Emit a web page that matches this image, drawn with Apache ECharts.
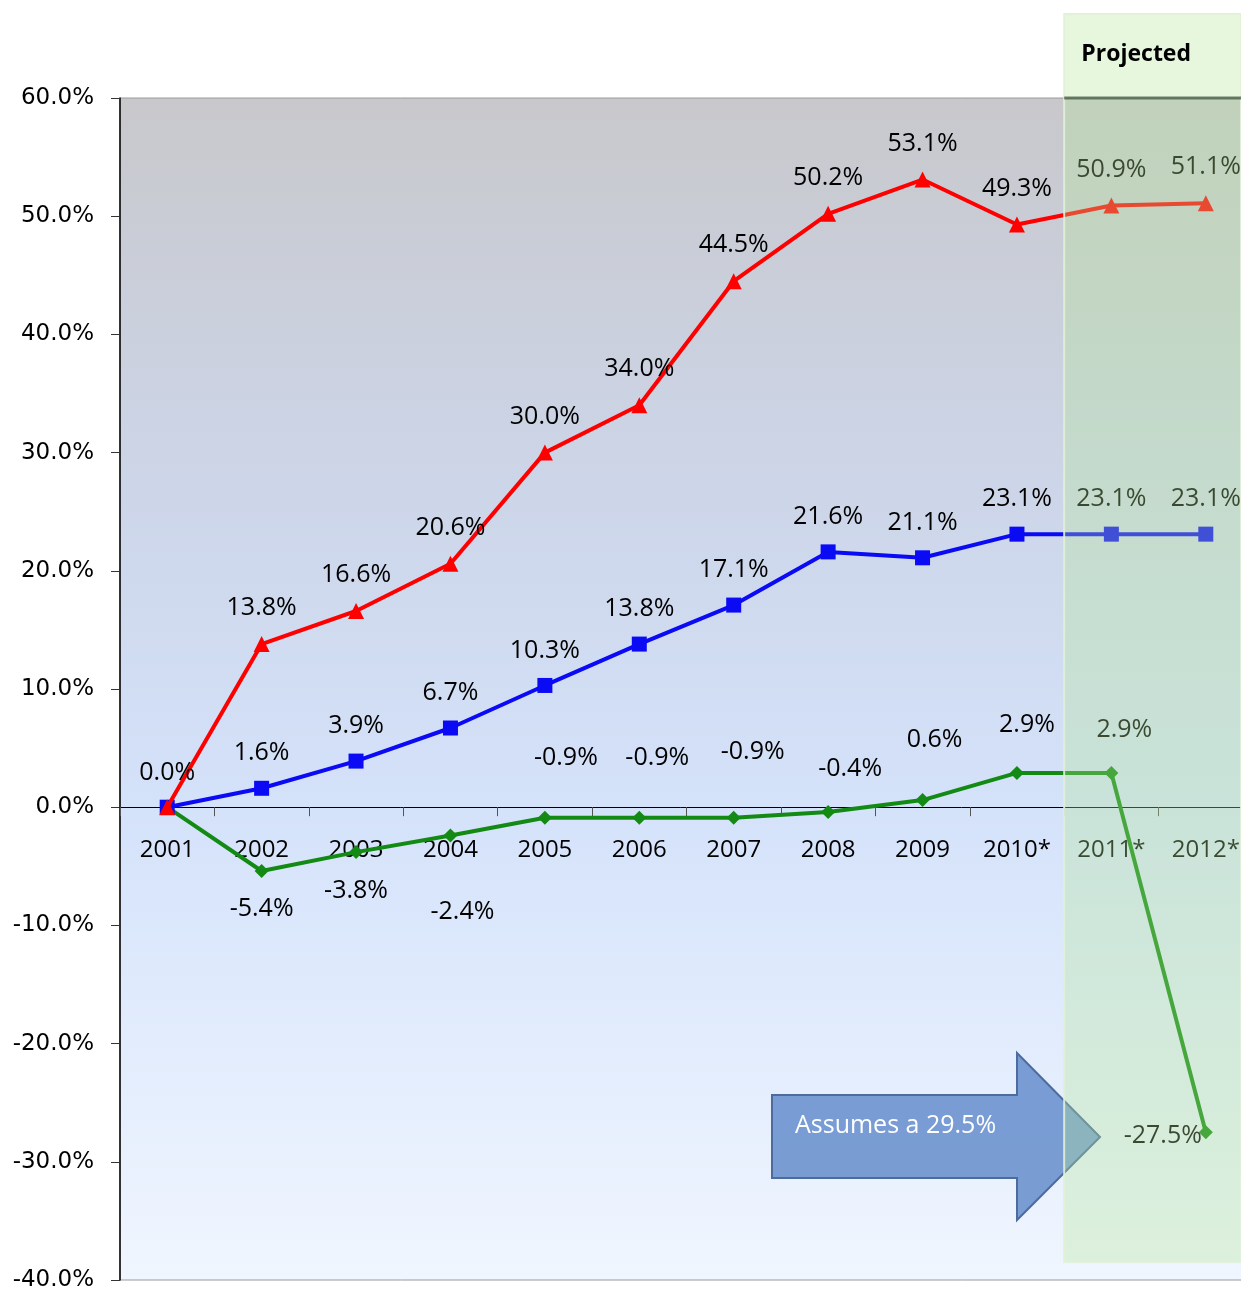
<!DOCTYPE html>
<html>
<head>
<meta charset="utf-8">
<script src="https://cdn.jsdelivr.net/npm/echarts@6/dist/echarts.min.js"></script>
<style>html,body{margin:0;padding:0;background:#fff}#c{width:1241px;height:1291px}</style>
</head>
<body>
<div id="c"></div>
<script>
const categories = ['2001','2002','2003','2004','2005','2006','2007','2008','2009','2010*','2011*','2012*'];
const redValues   = [0.0, 13.8, 16.6, 20.6, 30.0, 34.0, 44.5, 50.2, 53.1, 49.3, 50.9, 51.1];
const blueValues  = [0.0, 1.6, 3.9, 6.7, 10.3, 13.8, 17.1, 21.6, 21.1, 23.1, 23.1, 23.1];
const greenValues = [0.0, -5.4, -3.8, -2.4, -0.9, -0.9, -0.9, -0.4, 0.6, 2.9, 2.9, -27.5];
const yTicks = { min: -40, max: 60, interval: 10 };
const projectedLabel = 'Projected';
const arrowText = 'Assumes a 29.5%';

const labelFont = { fontFamily: 'Open Sans', fontSize: 25, color: '#000' };
const fmt = v => v.toFixed(1) + '%';

// label offsets (relative to the marker centre)
const greenOffsets = [null, [0,38], [0,39], [12,76], [21,-60], [18,-60], [19,-66], [22,-43], [12,-60], [10,-48], [13,-43], [-43,4]];

function buildData(values, offsetFn, showFn) {
  return values.map((v, i) => ({
    value: v,
    label: {
      show: showFn(i),
      position: 'inside',
      offset: offsetFn(i),
      align: 'center',
      verticalAlign: 'middle',
      formatter: p => fmt(p.value),
      ...labelFont
    }
  }));
}

const chart = echarts.init(document.getElementById('c'));
const option = {
  animation: false,
  grid: {
    left: 120, top: 98, width: 1133, height: 1182,
    outerBoundsMode: 'none',
    containLabel: false,
    show: true,
    borderColor: '#9a9a9a', borderWidth: 1,
    backgroundColor: {
      type: 'linear', x: 0, y: 0, x2: 0, y2: 1,
      colorStops: [
        { offset: 0, color: 'rgb(200,200,204)' },
        { offset: 0.3, color: 'rgb(204,212,230)' },
        { offset: 0.6, color: 'rgb(212,226,250)' },
        { offset: 1, color: 'rgb(240,246,255)' }
      ]
    }
  },
  xAxis: {
    type: 'category',
    data: categories,
    boundaryGap: true,
    axisLine: { onZero: true, lineStyle: { color: '#000', width: 1 } },
    axisTick: { show: true, inside: false, length: 9, lineStyle: { color: '#555' } },
    axisLabel: { margin: 31, fontFamily: 'Open Sans', fontSize: 24, color: '#000', interval: 0 },
    z: 3
  },
  yAxis: {
    type: 'value',
    min: yTicks.min, max: yTicks.max, interval: yTicks.interval,
    splitLine: { show: false },
    axisLine: { show: true, lineStyle: { color: '#000', width: 1.5 } },
    axisTick: { show: true, length: 9, lineStyle: { color: '#333' } },
    axisLabel: { margin: 26, fontFamily: 'DejaVu Sans', fontSize: 23, color: '#000', formatter: v => v.toFixed(1) + '%' }
  },
  series: [
    {
      name: 'green', type: 'line',
      data: buildData(greenValues, i => greenOffsets[i] || [0,0], i => i > 0),
      symbol: 'diamond', symbolSize: 14,
      lineStyle: { color: '#138a13', width: 4 },
      itemStyle: { color: '#138a13' },
      z: 3
    },
    {
      name: 'blue', type: 'line',
      data: buildData(blueValues, () => [0,-35], i => i > 0),
      symbol: 'rect', symbolSize: 15,
      lineStyle: { color: '#0a0af5', width: 4 },
      itemStyle: { color: '#0a0af5' },
      z: 4
    },
    {
      name: 'red', type: 'line',
      data: buildData(redValues, i => i === 0 ? [0,-34] : [0,-36], () => true),
      symbol: 'triangle', symbolSize: 16,
      lineStyle: { color: '#ff0000', width: 4 },
      itemStyle: { color: '#ff0000' },
      z: 5
    }
  ]
};
chart.setOption(option);

// make sure the category axis sits on the zero line
const yZero = chart.convertToPixel({ yAxisIndex: 0 }, 0);
const yBottom = chart.convertToPixel({ yAxisIndex: 0 }, yTicks.min);
const yTop = chart.convertToPixel({ yAxisIndex: 0 }, yTicks.max);
chart.setOption({ xAxis: { axisLine: { onZero: false }, offset: -(yBottom - yZero) } });

// overlays positioned from axis scales
const x2011 = chart.convertToPixel({ xAxisIndex: 0 }, categories[10]);
const x2010 = chart.convertToPixel({ xAxisIndex: 0 }, categories[9]);
const bandLeft = (x2011 + x2010) / 2;

chart.setOption({
  graphic: [
    {
      type: 'rect', z: 100,
      shape: { x: bandLeft, y: 14, width: 1241 - bandLeft, height: yBottom - 18 - 14 },
      style: { fill: 'rgba(180,230,150,0.32)', stroke: 'rgba(225,240,215,0.9)', lineWidth: 2 }
    },
    {
      type: 'line', z: 101,
      shape: { x1: bandLeft, y1: yTop, x2: 1241, y2: yTop },
      style: { stroke: 'rgba(60,80,60,0.7)', lineWidth: 3 }
    },
    {
      type: 'text', z: 102,
      style: { text: projectedLabel, x: bandLeft + 72, y: 54, align: 'center', verticalAlign: 'middle',
               fontFamily: 'Open Sans', fontWeight: 'bold', fontSize: 23, fill: '#000' }
    },
    {
      type: 'polygon', z: 90,
      shape: { points: [[772,1095],[1017,1095],[1017,1053],[1100,1137],[1017,1220],[1017,1178],[772,1178]] },
      style: { fill: 'rgba(105,145,205,0.88)', stroke: '#4d6c9e', lineWidth: 2 }
    },
    {
      type: 'text', z: 91,
      style: { text: arrowText, x: 795, y: 1126, align: 'left', verticalAlign: 'middle',
               fontFamily: 'Open Sans', fontSize: 25, fill: '#fff' }
    }
  ]
});
</script>
</body>
</html>
